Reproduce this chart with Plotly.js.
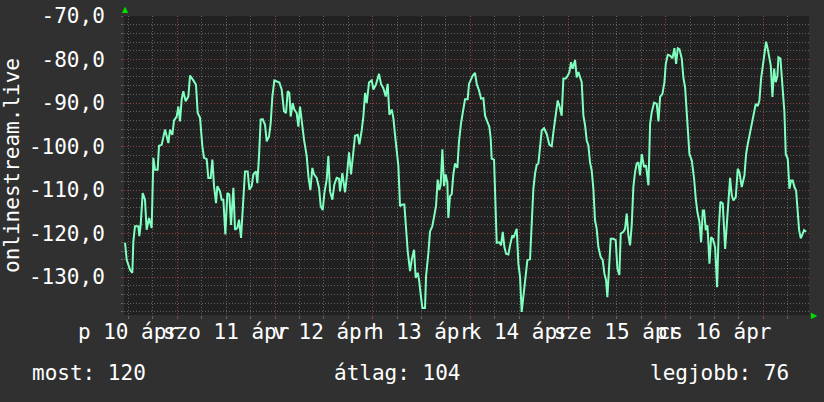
<!DOCTYPE html>
<html>
<head>
<meta charset="utf-8">
<script src="https://cdn.plot.ly/plotly-3.0.1.min.js"></script>
<style>
  html, body { margin: 0; padding: 0; background: #303030; }
  #chart { width: 824px; height: 402px; }
</style>
</head>
<body>
<div id="chart"></div>
<script>
// Hours since 10 Apr 00:00
const timeHours = [
  11.15, 11.56, 12.38, 12.95, 13.2, 13.6, 14.42, 14.67, 15.0, 15.49, 16.06, 16.47, 17.05, 17.7, 18.11, 18.52, 19.17, 19.5,
  20.16, 20.57, 20.98, 21.8, 22.21, 22.78, 23.19, 23.84, 24.25, 24.66, 25.07, 25.48, 26.05, 26.71, 27.12, 27.94, 28.59,
  29.0, 29.58, 30.15, 30.56, 31.21, 31.62, 32.2, 32.61, 33.02, 33.51, 33.83, 34.49, 34.9, 35.31, 35.8, 36.29, 36.78,
  37.19, 37.77, 38.18, 38.75, 39.16, 39.65, 40.22, 40.63, 41.29, 41.7, 42.27, 42.68, 43.34, 43.66, 44.07, 44.48, 44.97,
  45.55, 45.96, 46.53, 46.94, 47.35, 47.84, 48.41, 49.07, 49.64, 50.21, 50.71, 51.12, 51.53, 51.85, 52.34, 52.75,
  53.33, 53.74, 54.15, 54.56, 55.13, 55.79, 56.2, 56.69, 57.18, 57.59, 58.24, 58.82, 59.23, 59.72, 60.13, 60.7, 61.11,
  61.52, 62.09, 62.58, 63.16, 63.73, 63.98, 64.55, 65.21, 65.61, 66.19, 66.68, 67.25, 67.66, 68.32, 68.73, 69.3, 69.71,
  70.12, 70.53, 71.1, 71.76, 72.17, 72.82, 73.56, 74.05, 74.62, 75.2, 75.69, 76.1, 76.67, 77.08, 77.49, 77.9, 78.31,
  78.72, 79.29, 79.78, 80.19, 80.6, 81.18, 81.59, 82.16, 82.57, 83.06, 83.39, 83.8, 84.21, 84.86, 85.11, 85.68, 86.09,
  86.66, 87.15, 87.56, 87.97, 88.38, 88.71, 89.12, 89.53, 89.94, 90.35, 90.59, 91.0, 91.41, 91.82, 92.23, 92.81, 93.21,
  93.71, 94.28, 94.69, 95.34, 95.67,
  96.58, 97.15, 97.56, 98.13, 98.62, 99.2, 99.61, 100.18, 100.67, 101.0, 101.24, 101.82, 102.14, 102.47, 103.13, 103.54,
  103.95, 104.36, 104.77, 105.34, 105.75, 106.32, 106.57, 106.98, 107.39, 107.8, 108.21, 108.61, 109.02, 109.43, 110.01,
  110.66, 111.07, 111.48, 111.89, 112.3, 112.71, 113.12, 113.53, 114.1, 114.76, 115.41, 115.99, 116.4, 116.97, 117.46,
  117.87, 118.44, 118.85, 119.51, 119.92, 120.33, 120.74, 121.15, 121.72, 122.13, 122.54, 122.95, 123.36, 123.77, 124.18,
  124.59, 124.99, 125.4, 125.81, 126.22, 126.63, 127.04, 127.45, 128.02, 128.52, 128.93, 129.34, 129.66, 130.15, 130.48,
  131.14, 131.71, 132.12, 132.61, 132.94, 133.59, 134.0, 134.41, 134.82, 135.23, 135.64, 136.05, 136.46, 136.87, 137.28,
  137.69, 138.1, 138.67, 139.16,
  139.75, 140.16, 140.57, 141.14, 141.8, 142.21, 142.62, 143.19, 143.68, 144.01, 144.5, 145.07, 145.65, 146.14, 146.55,
  146.96, 147.37, 147.94, 148.35, 148.76, 149.33, 149.82, 150.4, 150.97, 151.38, 151.79, 152.28, 152.69, 153.1, 153.43,
  153.84, 154.25, 154.74, 155.15, 155.56, 156.13, 156.62, 157.03, 157.44, 158.01, 158.59, 159.0, 159.41, 159.81, 160.22,
  160.63, 161.21, 161.7, 162.11, 162.68, 163.34, 163.75, 164.16, 164.73, 165.3, 165.71, 166.12, 166.61, 167.02, 167.43,
  167.84, 168.25, 168.66, 169.07, 169.48, 169.81, 170.22, 170.63, 171.03, 171.44, 171.69, 172.18, 172.67, 173.16, 173.49,
  173.98, 174.39, 174.8, 175.21, 175.62, 176.03, 176.44, 176.77, 177.18, 177.59, 178.0, 178.49
];
const signal = [
  -122.1, -126, -128.3, -129, -121.8, -118.3, -118.3, -120.6, -118, -110.7, -112.2, -119.1, -116.4, -118.7, -102.6, -105.3, -105.3, -99.8,
  -99.6, -98, -96.1, -99.2, -96.1, -97.3, -94, -93.1, -90.8, -94.2, -89.2, -87.3, -89.6, -88.5, -83.7, -84.8, -85.8,
  -92.3, -93.4, -99.9, -102.6, -102.9, -107.2, -107.2, -103, -109.1, -113, -109.1, -110.3, -112.2, -112.2, -120.2, -110.7, -111,
  -118, -109.5, -119.1, -118.7, -116.8, -121, -111.4, -105.7, -105.7, -109.9, -109.1, -106.4, -105.7, -108.4, -102.2, -93.8, -93.7,
  -95, -98.8, -97.7, -94.6, -88.5, -84.8, -85, -85.3, -86.9, -91.9, -92.3, -87.3, -87.7, -93.1, -90, -91.5,
  -92.3, -95.4, -90.8, -94.2, -98.4, -102.2, -106.8, -110, -104.9, -106.4, -107.2, -109.5, -113.7, -114.6, -110.7, -107.6, -102.2,
  -110.3, -112.2, -108.7, -107.2, -107.4, -110.3, -106.1, -110.5, -107.2, -101.3, -106.4, -101.9, -97.5, -97.3, -99.5, -96.3, -93.1,
  -87.7, -90, -85.3, -84.8, -86.9, -85.7, -83.3, -85.6, -86.6, -88.5, -85.6, -92.7, -91.5, -93.4, -97.3, -101.9, -104.5,
  -113.7, -113.3, -113.3, -119.8, -124, -128.6, -126, -123.7, -130.2, -129, -130.6, -134, -137.1, -137.1, -129.8, -124.5, -119.5,
  -118.3, -116, -113.7, -107.6, -110, -108.7, -100.6, -109.1, -106.4, -108.4, -116.4, -111.4, -111, -106.4, -103.9, -104.9, -98.8,
  -94.6, -91.4, -89.1, -89.1, -85.6,
  -83.7, -83.1, -85.6, -87.1, -89, -88.9, -92.9, -94.2, -95.5, -98.2, -102.8, -103, -114.3, -122.1, -122, -122.7,
  -119.6, -123.1, -124.6, -124.8, -122.7, -120.4, -121, -120, -118.9, -126.9, -130, -138, -134.2, -130.3, -126.1,
  -125.9, -119.2, -109.7, -106.2, -104.2, -103.9, -99, -96.3, -95.8, -97.1, -99.6, -99.9, -96.7, -93.2, -89.4,
  -90.6, -92.9, -84.4, -84.3, -83.7, -82.9, -80.6, -82.1, -80.1, -84.1, -82.9, -84.4, -85.2, -92.9, -95.1,
  -98.6, -99.7, -103.6, -105.5, -109.7, -117, -118.9, -123.1, -125.4, -126.1, -129.2, -130.7, -134.6, -127.3, -121.2,
  -121.2, -121.5, -128, -129.5, -120, -119.6, -118.9, -115.4, -120.4, -122.7, -118.1, -109.3, -105.9, -103.9, -103.6,
  -106.6, -101.7, -104.7, -104.3,
  -108.9, -94.8, -92.1, -89.9, -90.2, -94.2, -88.6, -87.9, -85.2, -81, -78.9, -79.1, -79.7, -77.4, -81,
  -77.4, -77.6, -79.8, -84.3, -86.4, -95.1, -101.7, -103.2, -107.4, -112, -115.1, -117.3, -122, -114.7, -114.7,
  -119.2, -118.1, -126.9, -120.8, -121.2, -123.1, -132.3, -118.9, -112.7, -113.1, -123.5, -118.1, -114.3, -107.2, -111.2,
  -112.4, -111.6, -105.1, -105.9, -109.3, -106.6, -101.7, -99.4, -96.7, -93.6, -91.7, -90.2, -90.7, -89.4, -84.4,
  -81.8, -78.7, -75.9, -77.6, -79.8, -81.4, -88.6, -82.1, -85.2, -83.7, -79.5, -79.8, -86, -92.1, -101.7,
  -102.8, -109.7, -107.8, -107.8, -109.3, -110.1, -114.3, -119.2, -121.1, -120, -119.2, -119.6
];

// Day boundaries (midnight, major grid) and day labels centred at noon
const dayTicks = [24, 48, 72, 96, 120, 144, 168];
const labelHours = [12, 36, 60, 84, 108, 132, 156];
const dayLabels = ['p 10 ápr', 'szo 11 ápr', 'v 12 ápr', 'h 13 ápr', 'k 14 ápr', 'sze 15 ápr', 'cs 16 ápr'];

const yTicks = [-70, -80, -90, -100, -110, -120, -130];
const yLabels = ['-70,0', '-80,0', '-90,0', '-100,0', '-110,0', '-120,0', '-130,0'];

const seriesName = 'onlinestream.live';
const statLabels = ['most', 'átlag', 'legjobb'];
const statValues = [120, 104, 76];

const FONT = 'DejaVu Sans Mono, monospace';
const TXT = '#ffffff';
const MINOR = 'rgba(150,150,150,0.55)';
const MAJOR = 'rgba(160,60,60,0.85)';

const trace = {
  x: timeHours,
  y: signal,
  xaxis: 'x',
  yaxis: 'y',
  type: 'scatter',
  mode: 'lines',
  line: { color: '#80ffc0', width: 2 },
  hoverinfo: 'skip',
  showlegend: false
};
// empty trace that only registers the label axis (x2)
const labelAxisTrace = {
  x: [], y: [], xaxis: 'x2', yaxis: 'y', type: 'scatter', mode: 'lines',
  hoverinfo: 'skip', showlegend: false
};

const statPos = [
  { x: -0.1372, xanchor: 'left' },
  { x: 0.3985, xanchor: 'center' },
  { x: 0.9737, xanchor: 'right' }
];
const annotations = statLabels.map((l, i) => ({
  text: l + ': ' + statValues[i],
  xref: 'paper', yref: 'paper',
  x: statPos[i].x, xanchor: statPos[i].xanchor,
  y: -0.194, yanchor: 'middle',
  showarrow: false,
  font: { family: FONT, size: 21, color: TXT }
}));
annotations.push({
  text: '▲', xref: 'paper', yref: 'paper', x: 0.0015, y: 1.0, yanchor: 'bottom',
  xanchor: 'center', showarrow: false, font: { family: 'DejaVu Sans', size: 8, color: '#00e000' }
});
annotations.push({
  text: '▶', xref: 'paper', yref: 'paper', x: 1.0, y: 0.0, yanchor: 'middle',
  xanchor: 'left', showarrow: false, font: { family: 'DejaVu Sans', size: 8, color: '#00e000' }
});

const layout = {
  width: 824,
  height: 402,
  paper_bgcolor: '#303030',
  plot_bgcolor: '#212121',
  margin: { l: 124, r: 15, t: 16, b: 87 },
  font: { family: FONT, size: 21, color: TXT },
  showlegend: false,
  xaxis: {
    range: [10.9, 179.2],
    tickmode: 'array',
    tickvals: dayTicks,
    showticklabels: false,
    ticks: 'outside',
    ticklen: 3,
    tickcolor: MAJOR,
    showgrid: true,
    gridcolor: MAJOR,
    griddash: '1px,2px',
    gridwidth: 1,
    minor: { tickmode: 'linear', tick0: 0, dtick: 6, ticks: 'outside', ticklen: 3, tickcolor: MINOR,
             showgrid: true, gridcolor: MINOR, griddash: '1px,2px', gridwidth: 1 },
    zeroline: false,
    showline: false,
    fixedrange: true
  },
  xaxis2: {
    overlaying: 'x',
    anchor: 'y',
    side: 'bottom',
    range: [10.9, 179.2],
    autorange: false,
    tickmode: 'array',
    tickvals: labelHours,
    ticktext: dayLabels,
    tickangle: 0,
    ticks: '',
    ticklabelstandoff: 2,
    showgrid: false,
    zeroline: false,
    showline: false,
    fixedrange: true,
    tickfont: { family: FONT, size: 21, color: TXT }
  },
  yaxis: {
    range: [-138.7, -70],
    tickmode: 'array',
    tickvals: yTicks,
    ticktext: yLabels,
    ticks: 'outside',
    ticklen: 2,
    tickcolor: MAJOR,
    ticklabelstandoff: 12,
    showgrid: true,
    gridcolor: MAJOR,
    griddash: '1px,2px',
    gridwidth: 1,
    minor: { tickmode: 'linear', tick0: -70, dtick: 2, ticks: 'outside', ticklen: 2, tickcolor: MINOR,
             showgrid: true, gridcolor: MINOR, griddash: '1px,2px', gridwidth: 1 },
    zeroline: false,
    showline: false,
    fixedrange: true,
    tickfont: { family: FONT, size: 21, color: TXT },
    title: { text: seriesName, font: { family: FONT, size: 21, color: TXT }, standoff: 8 }
  },
  annotations: annotations
};

Plotly.newPlot('chart', [trace, labelAxisTrace], layout, { displayModeBar: false, staticPlot: true });
</script>
</body>
</html>
